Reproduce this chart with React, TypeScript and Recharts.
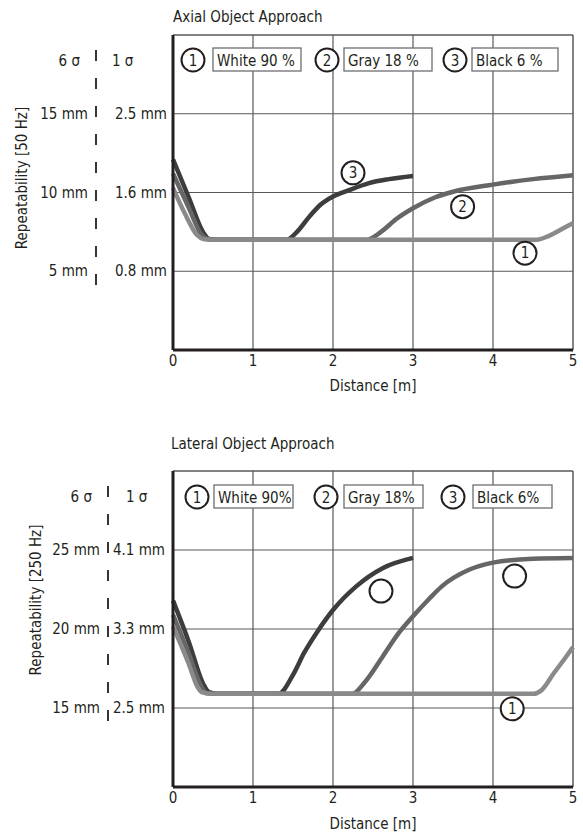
import React from "react";
import { LineChart, Line, XAxis, YAxis, ReferenceLine, ReferenceDot } from "recharts";

const FONT = "'Liberation Sans Narrow', 'DejaVu Sans Condensed', sans-serif";
const INK = "#231f20";

// shared axes
const distanceTicks = [0, 1, 2, 3, 4, 5];
const levelTicks = [1, 2, 3];
const headerLevel = 3.67;
const sigmaHeaders = ["6 σ", "1 σ"];

// Axial object approach, repeatability at 50 Hz
const axialSigma6 = ["5 mm", "10 mm", "15 mm"];
const axialSigma1 = ["0.8 mm", "1.6 mm", "2.5 mm"];
const axialLegend = ["White 90 %", "Gray 18 %", "Black 6 %"];
const axialWhite = [
  { d: 0, r: 2.06 }, { d: 0.15, r: 1.73 }, { d: 0.3, r: 1.46 }, { d: 0.38, r: 1.41 },
  { d: 0.48, r: 1.4 }, { d: 4.55, r: 1.4 }, { d: 4.7, r: 1.45 }, { d: 4.85, r: 1.53 },
  { d: 5, r: 1.61 },
];
const axialGray = [
  { d: 0, r: 2.24 }, { d: 0.2, r: 1.8 }, { d: 0.36, r: 1.46 }, { d: 0.43, r: 1.41 },
  { d: 0.53, r: 1.4 }, { d: 2.42, r: 1.4 }, { d: 2.6, r: 1.5 }, { d: 2.8, r: 1.67 },
  { d: 3, r: 1.8 }, { d: 3.28, r: 1.94 }, { d: 3.5, r: 2.01 }, { d: 4, r: 2.1 },
  { d: 4.5, r: 2.17 }, { d: 5, r: 2.22 },
];
const axialBlack = [
  { d: 0, r: 2.42 }, { d: 0.2, r: 1.93 }, { d: 0.38, r: 1.49 }, { d: 0.45, r: 1.41 },
  { d: 0.55, r: 1.4 }, { d: 1.42, r: 1.4 }, { d: 1.55, r: 1.5 }, { d: 1.71, r: 1.7 },
  { d: 1.85, r: 1.85 }, { d: 2, r: 1.95 }, { d: 2.2, r: 2.03 }, { d: 2.45, r: 2.12 },
  { d: 2.7, r: 2.17 }, { d: 3, r: 2.21 },
];
const axialMarks = [
  { d: 2.25, r: 2.25, n: "3" },
  { d: 3.62, r: 1.82, n: "2" },
  { d: 4.4, r: 1.23, n: "1" },
];

// Lateral object approach, repeatability at 250 Hz
const lateralSigma6 = ["15 mm", "20 mm", "25 mm"];
const lateralSigma1 = ["2.5 mm", "3.3 mm", "4.1 mm"];
const lateralLegend = ["White 90%", "Gray 18%", "Black 6%"];
const lateralWhite = [
  { d: 0, r: 2.03 }, { d: 0.2, r: 1.55 }, { d: 0.3, r: 1.28 }, { d: 0.36, r: 1.2 },
  { d: 0.46, r: 1.18 }, { d: 4.51, r: 1.18 }, { d: 4.6, r: 1.22 }, { d: 4.76, r: 1.44 },
  { d: 4.9, r: 1.63 }, { d: 5, r: 1.77 },
];
const lateralGray = [
  { d: 0, r: 2.18 }, { d: 0.2, r: 1.68 }, { d: 0.35, r: 1.28 }, { d: 0.42, r: 1.19 },
  { d: 0.52, r: 1.18 }, { d: 2.24, r: 1.18 }, { d: 2.4, r: 1.33 }, { d: 2.62, r: 1.65 },
  { d: 2.8, r: 1.92 }, { d: 3, r: 2.16 }, { d: 3.2, r: 2.38 }, { d: 3.36, r: 2.54 },
  { d: 3.7, r: 2.75 }, { d: 4, r: 2.84 }, { d: 4.5, r: 2.89 }, { d: 5, r: 2.9 },
];
const lateralBlack = [
  { d: 0, r: 2.36 }, { d: 0.2, r: 1.83 }, { d: 0.38, r: 1.3 }, { d: 0.45, r: 1.2 },
  { d: 0.55, r: 1.18 }, { d: 1.32, r: 1.18 }, { d: 1.5, r: 1.42 }, { d: 1.64, r: 1.7 },
  { d: 1.8, r: 1.96 }, { d: 2, r: 2.24 }, { d: 2.29, r: 2.54 }, { d: 2.62, r: 2.77 },
  { d: 3, r: 2.9 },
];
const lateralMarks = [
  { d: 2.6, r: 2.48, n: "" },
  { d: 4.27, r: 2.67, n: "" },
  { d: 4.24, r: 0.99, n: "1" },
];

const seriesColors = ["#8a8a8c", "#666668", "#3d3d3e"];

function LevelTick(props: any) {
  const { y, payload, cfg } = props;
  const v = payload.value;
  const common = { fontFamily: FONT, fontSize: 15, fill: INK, dominantBaseline: "central" as const };
  if (v === headerLevel) {
    return (
      <g>
        <text x={cfg.headRight} y={y} textAnchor="end" {...common}>{sigmaHeaders[0]}</text>
        <text x={cfg.headLeft} y={y} textAnchor="start" {...common}>{sigmaHeaders[1]}</text>
      </g>
    );
  }
  const i = levelTicks.indexOf(v);
  return (
    <g>
      <text x={cfg.col1} y={y} textAnchor="end" {...common}>{cfg.sigma6[i]}</text>
      <text x={cfg.col2} y={y} textAnchor="end" {...common}>{cfg.sigma1[i]}</text>
    </g>
  );
}

function RepeatChart({ cfg }: { cfg: any }) {
  const series = [cfg.black, cfg.gray, cfg.white];
  const names = [cfg.legend[2], cfg.legend[1], cfg.legend[0]];
  const colors = [seriesColors[2], seriesColors[1], seriesColors[0]];
  return (
    <div style={{ position: "relative", width: 583, height: 418 }}>
      <LineChart width={583} height={418} margin={{ top: cfg.top, right: 10, left: 0, bottom: 0 }}>
        <XAxis
          type="number"
          dataKey="d"
          domain={[0, 5]}
          ticks={distanceTicks}
          interval={0}
          height={cfg.xHeight}
          tickLine={false}
          tickSize={3}
          axisLine={{ stroke: INK, strokeWidth: 3 }}
          tick={{ fill: INK, fontSize: 15, fontFamily: FONT }}
          label={{ value: "Distance [m]", position: "insideBottom", offset: cfg.xLabelOffset, fill: INK, fontSize: 15, fontFamily: FONT }}
        />
        <YAxis
          type="number"
          dataKey="r"
          domain={[0, 4]}
          ticks={[...levelTicks, headerLevel]}
          interval={0}
          width={173}
          tickLine={false}
          axisLine={{ stroke: INK, strokeWidth: 3 }}
          tick={<LevelTick cfg={cfg} />}
        />
        {[1, 2, 3, 4].map((v) => (
          <ReferenceLine key={"x" + v} x={v} stroke="#58595b" strokeWidth={1.2} />
        ))}
        {levelTicks.map((v) => (
          <ReferenceLine key={"y" + v} y={v} stroke="#58595b" strokeWidth={1.2} />
        ))}
        <ReferenceLine y={4} stroke="#58595b" strokeWidth={1.5} />
        <ReferenceLine x={5} stroke="#58595b" strokeWidth={1.5} />
        {series.map((s, i) => (
          <Line
            key={names[i]}
            name={names[i]}
            data={s}
            dataKey="r"
            type="monotone"
            stroke={colors[i]}
            strokeWidth={4.5}
            dot={false}
            isAnimationActive={false}
          />
        ))}
        {cfg.marks.map((m: any, i: number) => (
          <ReferenceDot
            key={"m" + i}
            x={m.d}
            y={m.r}
            r={11.5}
            fill="#fff"
            stroke={INK}
            strokeWidth={2}
            label={m.n ? { value: m.n, position: "center", fill: INK, fontSize: 15, fontFamily: FONT } : undefined}
          />
        ))}
      </LineChart>
      <svg
        width={583}
        height={418}
        style={{ position: "absolute", left: 0, top: 0, pointerEvents: "none" }}
        fontFamily={FONT}
      >
        <text x={cfg.titleX} y={cfg.titleY} fontSize={15} fill={INK}>{cfg.title}</text>
        <text
          x={cfg.yTitleX}
          y={cfg.yTitleY}
          fontSize={15}
          fill={INK}
          textAnchor="middle"
          dominantBaseline="central"
          transform={`rotate(-90 ${cfg.yTitleX} ${cfg.yTitleY})`}
        >
          {cfg.yTitle}
        </text>
        <line x1={cfg.dashX} x2={cfg.dashX} y1={cfg.dashTop} y2={cfg.dashBottom} stroke={INK} strokeWidth={1.8} strokeDasharray="11 17" />
        {cfg.legend.map((label: string, i: number) => (
          <g key={label}>
            <circle cx={cfg.legendCx[i]} cy={cfg.legendY} r={11.5} fill="#fff" stroke={INK} strokeWidth={2} />
            <text x={cfg.legendCx[i]} y={cfg.legendY + 1} fontSize={15} fill={INK} textAnchor="middle" dominantBaseline="central">
              {String(i + 1)}
            </text>
            <rect x={cfg.boxX[i]} y={cfg.legendY - 12} width={cfg.boxW[i]} height={23} fill="#fff" stroke="#6d6e71" strokeWidth={1.3} />
            <text x={cfg.boxX[i] + 4} y={cfg.legendY + 0.5} fontSize={15} fill={INK} dominantBaseline="central">
              {label}
            </text>
          </g>
        ))}
      </svg>
    </div>
  );
}

const axialCfg = {
  title: "Axial Object Approach",
  yTitle: "Repeatability [50 Hz]",
  white: axialWhite,
  gray: axialGray,
  black: axialBlack,
  marks: axialMarks,
  sigma6: axialSigma6,
  sigma1: axialSigma1,
  legend: axialLegend,
  top: 35,
  xHeight: 68,
  xLabelOffset: 27,
  col1: 88,
  col2: 167,
  headRight: 80,
  headLeft: 112,
  titleX: 173,
  titleY: 22,
  yTitleX: 22,
  yTitleY: 178,
  dashX: 96,
  dashTop: 50,
  dashBottom: 295,
  legendY: 60,
  legendCx: [193, 327, 455],
  boxX: [213, 344, 472],
  boxW: [88, 88, 86],
};

const lateralCfg = {
  title: "Lateral Object Approach",
  yTitle: "Repeatability [250 Hz]",
  white: lateralWhite,
  gray: lateralGray,
  black: lateralBlack,
  marks: lateralMarks,
  sigma6: lateralSigma6,
  sigma1: lateralSigma1,
  legend: lateralLegend,
  top: 53,
  xHeight: 49,
  xLabelOffset: 7,
  col1: 100,
  col2: 165,
  headRight: 92,
  headLeft: 126,
  titleX: 171,
  titleY: 31,
  yTitleX: 36,
  yTitleY: 182,
  dashX: 108,
  dashTop: 68,
  dashBottom: 313,
  legendY: 79,
  legendCx: [197, 326, 453],
  boxX: [214, 344, 473],
  boxW: [79, 79, 79],
};

export default function App() {
  return (
    <div style={{ position: "absolute", left: 0, top: 0, width: 583, height: 836, background: "#fff" }}>
      <RepeatChart cfg={axialCfg} />
      <RepeatChart cfg={lateralCfg} />
    </div>
  );
}
